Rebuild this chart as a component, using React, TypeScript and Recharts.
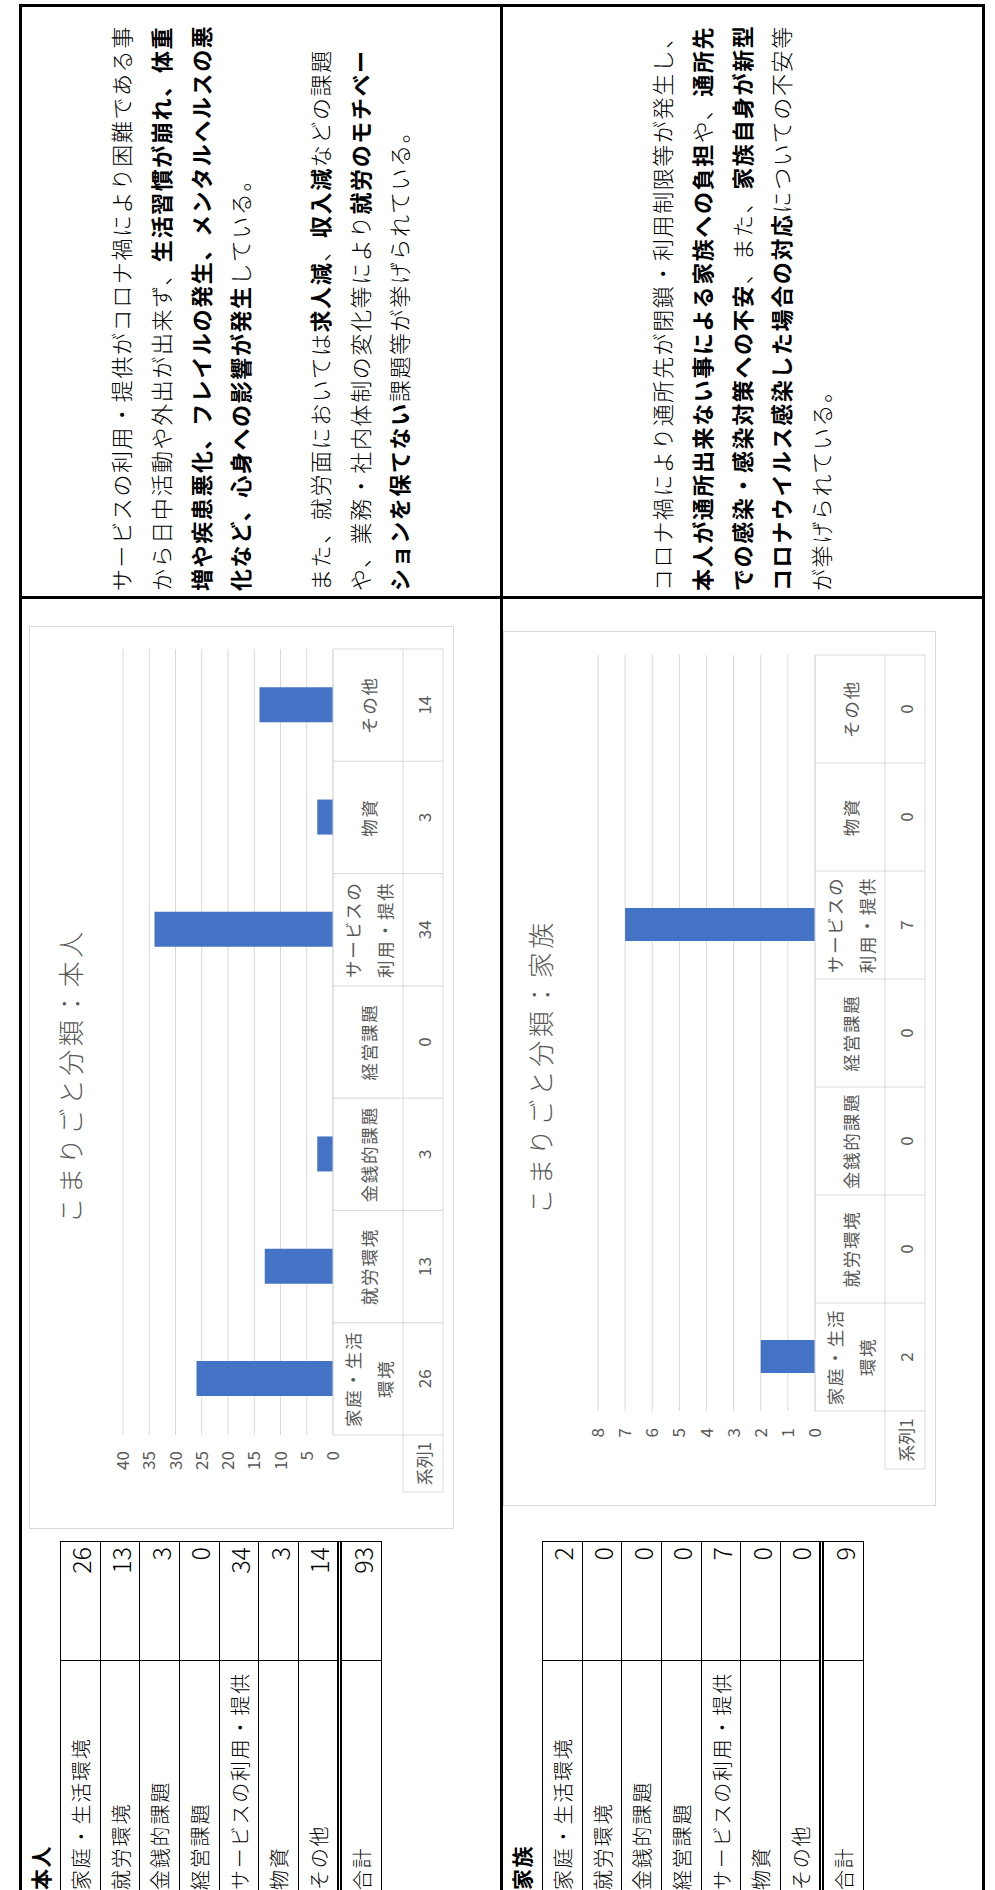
import { Bar, BarChart, CartesianGrid, XAxis, YAxis } from "recharts";

const FONT = '"Noto Sans CJK JP", "Noto Sans", sans-serif';
const GRID = "#d9d9d9";
const INK = "#595959";
const BAR = "#4472C4";

// categories as shown in the summary tables and on the chart axis
const categories = ["家庭・生活環境", "就労環境", "金銭的課題", "経営課題", "サービスの利用・提供", "物資", "その他"];
const axisLabels = [["家庭・生活", "環境"], ["就労環境"], ["金銭的課題"], ["経営課題"], ["サービスの", "利用・提供"], ["物資"], ["その他"]];
const seriesName = "系列1";

const honninValues = [26, 13, 3, 0, 34, 3, 14];
const kazokuValues = [2, 0, 0, 0, 7, 0, 0];
const honninTicks = [0, 5, 10, 15, 20, 25, 30, 35, 40];
const kazokuTicks = [0, 1, 2, 3, 4, 5, 6, 7, 8];

type Seg = [string, boolean];

const honninText: Seg[][] = [
  [["サービスの利用・提供がコロナ禍により困難である事", false]],
  [["から日中活動や外出が出来ず、", false], ["生活習慣が崩れ、体重", true]],
  [["増や疾患悪化、フレイルの発生、メンタルヘルスの悪", true]],
  [["化など、心身への影響が発生", true], ["している。", false]],
  [],
  [["また、就労面においては", false], ["求人減", true], ["、", false], ["収入減", true], ["などの課題", false]],
  [["や、業務・社内体制の変化等により", false], ["就労のモチベー", true]],
  [["ションを保てない", true], ["課題等が挙げられている。", false]],
];

const kazokuText: Seg[][] = [
  [["コロナ禍により通所先が閉鎖・利用制限等が発生し、", false]],
  [["本人が通所出来ない事による家族への負担", true], ["や、", false], ["通所先", true]],
  [["での感染・感染対策への不安", true], ["、また、", false], ["家族自身が新型", true]],
  [["コロナウイルス感染した場合の対応", true], ["についての不安等", false]],
  [["が挙げられている。", false]],
];

const TableTick = (props: any) => {
  const { x, y, index, bandW, values, headW } = props;
  const l = x - bandW / 2;
  const r = x + bandW / 2;
  const lines: string[] = axisLabels[index] ?? [String(props.payload?.value)];
  const last = index === categories.length - 1;
  return (
    <g>
      <line x1={l} y1={y} x2={r} y2={y} stroke={GRID} />
      <line x1={l} y1={y + 70} x2={r} y2={y + 70} stroke={GRID} />
      <line x1={l} y1={y + 110} x2={r} y2={y + 110} stroke={GRID} />
      <line x1={l} y1={y} x2={l} y2={y + 110} stroke={GRID} />
      {last && <line x1={r} y1={y} x2={r} y2={y + 110} stroke={GRID} />}
      {lines.map((t, i) => (
        <text
          key={i}
          x={x}
          y={y + 35 + (i - (lines.length - 1) / 2) * 32}
          textAnchor="middle"
          dominantBaseline="central"
          fill={INK}
          fontSize={17.5}
          letterSpacing={1.8}
        >
          {t}
        </text>
      ))}
      <text x={x} y={y + 90} textAnchor="middle" dominantBaseline="central" fill={INK} fontSize={17}>
        {values[index]}
      </text>
      {index === 0 && (
        <g>
          <line x1={l - headW} y1={y + 70} x2={l} y2={y + 70} stroke={GRID} />
          <line x1={l - headW} y1={y + 110} x2={l} y2={y + 110} stroke={GRID} />
          <line x1={l - headW} y1={y + 70} x2={l - headW} y2={y + 110} stroke={GRID} />
          <text x={l - headW / 2} y={y + 90} textAnchor="middle" dominantBaseline="central" fill={INK} fontSize={17}>
            {seriesName}
          </text>
        </g>
      )}
    </g>
  );
};

type ChartProps = {
  title: string;
  values: number[];
  ticks: number[];
  left: number;
  top: number;
  width: number;
  height: number;
  plotTop: number;
  plotLeft: number;
  plotRight: number;
  plotBottom: number;
  barSize: number;
  titleY: number;
  headW: number;
  tickGap: number;
};

const CategoryChart = (p: ChartProps) => {
  const data = categories.map((name, i) => ({ name, value: p.values[i] }));
  const bandW = (p.width - p.plotLeft - p.plotRight) / categories.length;
  return (
    <div style={{ position: "absolute", left: p.left, top: p.top, width: p.width, height: p.height, background: "#fff", fontFamily: FONT }}>
      <BarChart
        width={p.width}
        height={p.height}
        data={data}
        margin={{ top: p.plotTop, right: p.plotRight, bottom: 0, left: 0 }}
        barSize={p.barSize}
      >
        <CartesianGrid vertical={false} stroke={GRID} />
        <XAxis
          dataKey="name"
          axisLine={false}
          tickLine={false}
          tickSize={0}
          tickMargin={0}
          interval={0}
          height={p.height - p.plotBottom}
          tick={(tp: any) => <TableTick {...tp} bandW={bandW} values={p.values} headW={p.headW} />}
        />
        <YAxis
          domain={[0, p.ticks[p.ticks.length - 1]]}
          ticks={p.ticks}
          width={p.plotLeft}
          axisLine={false}
          tickLine={false}
          tickSize={0}
          tickMargin={p.tickGap}
          tick={{ fill: INK, fontSize: 17 }}
        />
        <Bar dataKey="value" fill={BAR} isAnimationActive={false} />
      </BarChart>
      <div
        style={{
          position: "absolute",
          left: 0,
          width: p.width,
          top: p.titleY - 16,
          lineHeight: "32px",
          textAlign: "center",
          fontSize: 26,
          letterSpacing: 3.5,
          paddingLeft: 3.5,
          boxSizing: "border-box",
          color: INK,
          fontWeight: 300,
        }}
      >
        {p.title}
      </div>
      <div style={{ position: "absolute", inset: 0, border: `1px solid ${GRID}`, pointerEvents: "none" }} />
    </div>
  );
};

const tableLabels = [...categories, "合計"];

const SummaryTable = ({ top, values }: { top: number; values: number[] }) => {
  const total = values.reduce((a, b) => a + b, 0);
  const vals = [...values, total];
  return (
    <div style={{ position: "absolute", left: -10, top, width: 358, borderTop: "1.5px solid #000", borderRight: "1.5px solid #000" }}>
      {tableLabels.map((label, i) => (
        <div
          key={label}
          style={{
            display: "flex",
            height: i === 6 ? 43.2 : 39.7,
            boxSizing: "border-box",
            borderBottom: i === 6 ? "5px double #000" : "1.5px solid #000",
          }}
        >
          <div
            style={{
              width: 240,
              boxSizing: "border-box",
              borderRight: "1.5px solid #000",
              paddingLeft: 10,
              fontSize: 20,
              letterSpacing: 1.8,
              fontWeight: 300,
              display: "flex",
              alignItems: "center",
              whiteSpace: "nowrap",
            }}
          >
            {label}
          </div>
          <div
            style={{
              flex: 1,
              textAlign: "right",
              paddingRight: 5,
              fontSize: 25,
              fontWeight: 300,
              display: "flex",
              alignItems: "center",
              justifyContent: "flex-end",
            }}
          >
            {vals[i]}
          </div>
        </div>
      ))}
    </div>
  );
};

const TextBlock = ({ top, lines }: { top: number; lines: Seg[][] }) => (
  <div style={{ position: "absolute", left: 1299, top, fontSize: 22, letterSpacing: 1.6 }}>
    {lines.map((segs, i) => (
      <div key={i} style={{ height: 39.75, lineHeight: "39.75px", whiteSpace: "nowrap" }}>
        {segs.map(([t, b], j) => (
          <span key={j} style={{ fontWeight: b ? 700 : 300 }}>
            {t}
          </span>
        ))}
      </div>
    ))}
  </div>
);

export default function App() {
  return (
    <div style={{ position: "absolute", left: 0, top: 0, width: 995, height: 1890, overflow: "hidden", background: "#fff" }}>
      <div
        style={{
          position: "absolute",
          left: 0,
          top: 0,
          width: 1890,
          height: 995,
          transformOrigin: "0 0",
          transform: "translate(0px, 1890px) rotate(-90deg)",
          fontFamily: FONT,
          color: "#000",
        }}
      >
        <div style={{ position: "absolute", left: -20, top: 19, width: 1906, height: 966, border: "3px solid #000", boxSizing: "border-box" }} />
        <div style={{ position: "absolute", left: -20, top: 500, width: 1906, height: 3, background: "#000" }} />
        <div style={{ position: "absolute", left: 1291, top: 19, width: 3, height: 966, background: "#000" }} />

        <div style={{ position: "absolute", left: 0, top: 28, fontSize: 21, fontWeight: 700, lineHeight: "24px", letterSpacing: 1.5 }}>本人</div>
        <SummaryTable top={60} values={honninValues} />
        <CategoryChart
          title="こまりごと分類：本人"
          values={honninValues}
          ticks={honninTicks}
          left={361}
          top={29}
          width={903}
          height={425}
          plotTop={94}
          plotLeft={94}
          plotRight={23}
          plotBottom={304}
          barSize={35}
          titleY={41}
          headW={57}
          tickGap={16}
        />
        <TextBlock top={101} lines={honninText} />

        <div style={{ position: "absolute", left: 0, top: 509, fontSize: 21, fontWeight: 700, lineHeight: "24px", letterSpacing: 1.5 }}>家族</div>
        <SummaryTable top={542} values={kazokuValues} />
        <CategoryChart
          title="こまりごと分類：家族"
          values={kazokuValues}
          ticks={kazokuTicks}
          left={384}
          top={503}
          width={875}
          height={433}
          plotTop={95}
          plotLeft={95}
          plotRight={24}
          plotBottom={312}
          barSize={33}
          titleY={37}
          headW={58}
          tickGap={17}
        />
        <TextBlock top={642} lines={kazokuText} />
      </div>
    </div>
  );
}
